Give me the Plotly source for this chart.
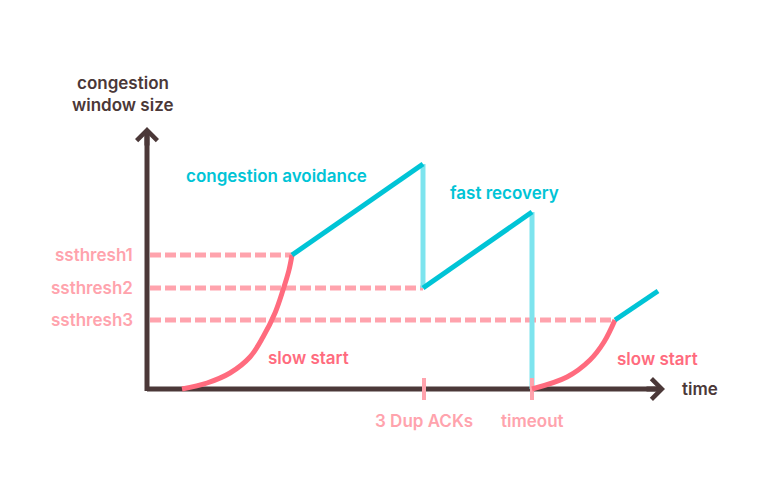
import plotly.graph_objects as go

# ---- data (time units, window-size units) ----
ss1_t = [35, 60, 83, 103, 116, 128, 136, 142, 145]
ss1_w = [0, 6, 16, 32, 52, 76, 99, 119, 134]

ca1_t = [145, 276]
ca1_w = [134, 225]
drop1_t = [276, 276]
drop1_w = [225, 101]
ca2_t = [276, 385]
ca2_w = [101, 177]
drop2_t = [385, 385]
drop2_w = [177, 0]

ss2_t = [385, 420, 443, 457, 468]
ss2_w = [0, 12, 29, 47, 69]
ca3_t = [468, 511]
ca3_w = [69, 98]

thresh_names = ["ssthresh1", "ssthresh2", "ssthresh3"]
thresh_vals = [134, 101, 69]
thresh_end = [145, 276, 468]

event_names = ["3 Dup ACKs", "timeout"]
event_times = [277, 385]

x_axis_end = 518
y_axis_end = 262

# ---- styles ----
DARK = "#4b3838"
CORAL = "#ff6b7e"
PINK = "#ffa3ad"
CYAN = "#00c4d6"
LCYAN = "#7de4ee"
FONT = "Inter"

fig = go.Figure()

def line(x, y, color, width=5, dash=None, shape="linear"):
    fig.add_trace(go.Scatter(x=x, y=y, mode="lines", hoverinfo="skip",
                             line=dict(color=color, width=width, dash=dash, shape=shape),
                             showlegend=False))

# axes lines
line([0, x_axis_end - 4], [0, 0], DARK)
line([0, 0], [-2, y_axis_end - 4], DARK)

# threshold dashed lines
for v, e in zip(thresh_vals, thresh_end):
    line([3, e], [v, v], PINK, dash="11px,4px")

# drops
line(drop1_t, drop1_w, LCYAN)
line(drop2_t, drop2_w, LCYAN)

# event ticks
for t in event_times:
    line([t, t], [-11, 11], PINK, width=4)

# slow start curves
line(ss1_t, ss1_w, CORAL, shape="spline")
line(ss2_t, ss2_w, CORAL, shape="spline")

# congestion avoidance
line(ca1_t, ca1_w, CYAN)
line(ca2_t, ca2_w, CYAN)
line(ca3_t, ca3_w, CYAN)

ann = []
# arrowheads
ann.append(dict(x=x_axis_end, y=0, ax=x_axis_end - 20, ay=0, xref="x", yref="y",
                axref="x", ayref="y", showarrow=True, arrowhead=4, arrowsize=0.8,
                arrowwidth=5, arrowcolor=DARK, text=""))
ann.append(dict(x=0, y=y_axis_end, ax=0, ay=y_axis_end - 20, xref="x", yref="y",
                axref="x", ayref="y", showarrow=True, arrowhead=4, arrowsize=0.8,
                arrowwidth=5, arrowcolor=DARK, text=""))

def label(text, x, y, color, xanchor="center"):
    ann.append(dict(x=x, y=y, xref="x", yref="y", text=text, showarrow=False,
                    xanchor=xanchor, yanchor="middle",
                    font=dict(family=FONT, size=17, color=color, weight=600)))

label("congestion", -24, 306, DARK)
label("window size", -24, 284, DARK)
label("time", 533, 0, DARK, xanchor="left")
for n, v in zip(thresh_names, thresh_vals):
    label(n, -12, v, PINK, xanchor="right")
for n, t in zip(event_names, event_times):
    label(n, t, -32, PINK)
label("slow start", 161, 31, CORAL)
label("slow start", 510, 30, CORAL)
label("congestion avoidance", 129, 213, CYAN)
label("fast recovery", 357, 196, CYAN)

fig.update_layout(
    width=768, height=480,
    margin=dict(l=0, r=0, t=0, b=0),
    paper_bgcolor="white", plot_bgcolor="white",
    xaxis=dict(range=[-147, 621], visible=False, fixedrange=True),
    yaxis=dict(range=[-91, 389], visible=False, fixedrange=True),
    annotations=ann,
    showlegend=False,
)

fig.write_html("out.html", config={"displayModeBar": False},
               post_script="document.body.style.margin='0';")
